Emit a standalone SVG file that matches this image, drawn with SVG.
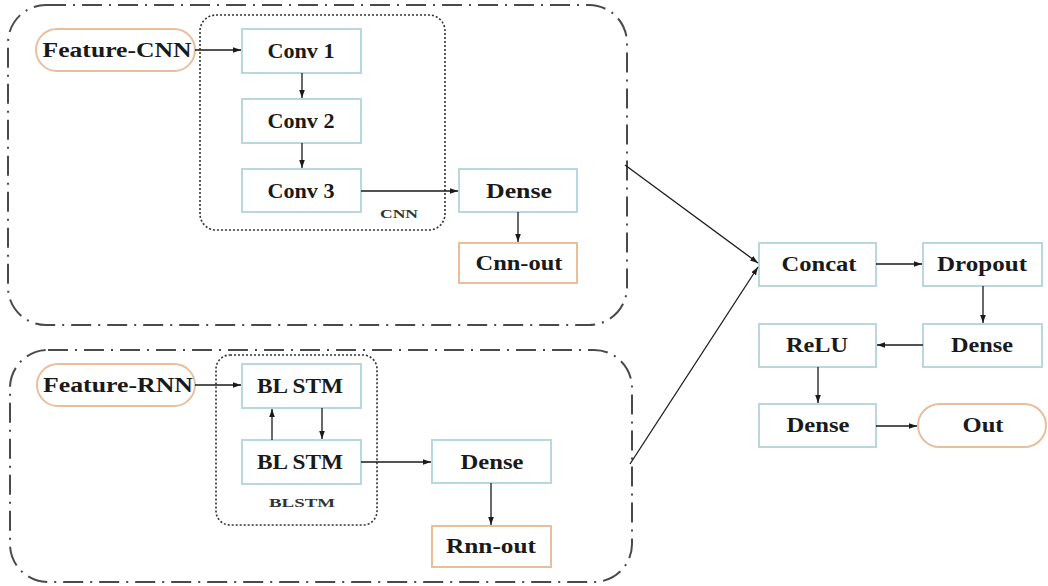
<svg xmlns="http://www.w3.org/2000/svg" width="1048" height="586" viewBox="0 0 1048 586">
<style>
.outer{fill:none;stroke:#4a4a4a;stroke-width:2;stroke-dasharray:20 7 2 7}
.inner{fill:none;stroke:#333;stroke-width:1.6;stroke-dasharray:2 2}
.blue{fill:#fff;stroke:#b9d7df;stroke-width:2}
.orange{fill:#fff;stroke:#e9bf9b;stroke-width:2}
.t{font-family:"Liberation Serif","Times New Roman",serif;font-weight:bold;font-size:20px;fill:#1a1a1a;text-anchor:middle}
.s{font-family:"Liberation Serif","Times New Roman",serif;font-weight:bold;font-size:13px;fill:#333;text-anchor:middle}
.c line{stroke:#1a1a1a;stroke-width:1.3;marker-end:url(#ah)}
</style>
<defs>
<marker id="ah" viewBox="0 0 10 10" refX="10" refY="5" markerWidth="8" markerHeight="8" markerUnits="userSpaceOnUse" orient="auto">
<path d="M0,1.5 L10,5 L0,8.5 z" fill="#1a1a1a"/>
</marker>
</defs>
<rect width="1048" height="586" fill="#fff"/>
<g id="group-top"><rect class="outer" x="8" y="5" width="619" height="320" rx="38"/></g>
<g id="group-bottom"><rect class="outer" x="10" y="350" width="622" height="232" rx="38"/></g>
<g id="cnn-box"><rect class="inner" x="200" y="15" width="245" height="215" rx="16"/><text class="s" x="399" y="218" textLength="38" lengthAdjust="spacingAndGlyphs">CNN</text></g>
<g id="blstm-box"><rect class="inner" x="216" y="355" width="161" height="170" rx="14"/><text class="s" x="302" y="507" textLength="66" lengthAdjust="spacingAndGlyphs">BLSTM</text></g>

<g id="feature-cnn"><rect class="orange" x="36" y="29" width="159" height="42" rx="21"/><text class="t" x="117" y="57" textLength="149" lengthAdjust="spacingAndGlyphs">Feature-CNN</text></g>
<g id="conv1"><rect class="blue" x="242" y="29" width="119" height="44"/><text class="t" x="301" y="58" textLength="67" lengthAdjust="spacingAndGlyphs">Conv 1</text></g>
<g id="conv2"><rect class="blue" x="242" y="99" width="119" height="44"/><text class="t" x="301" y="128" textLength="67" lengthAdjust="spacingAndGlyphs">Conv 2</text></g>
<g id="conv3"><rect class="blue" x="242" y="169" width="119" height="43"/><text class="t" x="301" y="198" textLength="67" lengthAdjust="spacingAndGlyphs">Conv 3</text></g>
<g id="dense-cnn"><rect class="blue" x="459" y="169" width="118" height="43"/><text class="t" x="519" y="198" textLength="66" lengthAdjust="spacingAndGlyphs">Dense</text></g>
<g id="cnn-out"><rect class="orange" x="459" y="243" width="118" height="40"/><text class="t" x="519" y="270" textLength="87" lengthAdjust="spacingAndGlyphs">Cnn-out</text></g>

<g id="feature-rnn"><rect class="orange" x="37" y="364" width="158" height="42" rx="21"/><text class="t" x="118" y="392" textLength="150" lengthAdjust="spacingAndGlyphs">Feature-RNN</text></g>
<g id="blstm1"><rect class="blue" x="242" y="364" width="119" height="44"/><text class="t" x="300" y="393" textLength="86" lengthAdjust="spacingAndGlyphs">BL STM</text></g>
<g id="blstm2"><rect class="blue" x="242" y="440" width="119" height="44"/><text class="t" x="300" y="469" textLength="86" lengthAdjust="spacingAndGlyphs">BL STM</text></g>
<g id="dense-rnn"><rect class="blue" x="432" y="440" width="119" height="43"/><text class="t" x="492" y="469" textLength="63" lengthAdjust="spacingAndGlyphs">Dense</text></g>
<g id="rnn-out"><rect class="orange" x="432" y="526" width="119" height="41"/><text class="t" x="491" y="553" textLength="90" lengthAdjust="spacingAndGlyphs">Rnn-out</text></g>

<g id="concat"><rect class="blue" x="759" y="243" width="117" height="43"/><text class="t" x="819" y="271" textLength="75" lengthAdjust="spacingAndGlyphs">Concat</text></g>
<g id="dropout"><rect class="blue" x="923" y="243" width="119" height="43"/><text class="t" x="982" y="271" textLength="90" lengthAdjust="spacingAndGlyphs">Dropout</text></g>
<g id="dense-2"><rect class="blue" x="923" y="324" width="119" height="43"/><text class="t" x="982" y="352" textLength="62" lengthAdjust="spacingAndGlyphs">Dense</text></g>
<g id="relu"><rect class="blue" x="759" y="324" width="117" height="43"/><text class="t" x="817" y="352" textLength="62" lengthAdjust="spacingAndGlyphs">ReLU</text></g>
<g id="dense-3"><rect class="blue" x="759" y="404" width="117" height="43"/><text class="t" x="818" y="432" textLength="63" lengthAdjust="spacingAndGlyphs">Dense</text></g>
<g id="out"><rect class="orange" x="918" y="404" width="128" height="43" rx="21.5"/><text class="t" x="983" y="432" textLength="41" lengthAdjust="spacingAndGlyphs">Out</text></g>

<g id="connectors" class="c">
<line x1="195" y1="50" x2="241" y2="50"/>
<line x1="302" y1="73" x2="302" y2="98"/>
<line x1="302" y1="143" x2="302" y2="168"/>
<line x1="361" y1="191" x2="458" y2="191"/>
<line x1="518" y1="212" x2="518" y2="242"/>
<line x1="195" y1="385" x2="241" y2="385"/>
<line x1="272" y1="440" x2="272" y2="409"/>
<line x1="322" y1="408" x2="322" y2="439"/>
<line x1="361" y1="462" x2="431" y2="462"/>
<line x1="491" y1="483" x2="491" y2="525"/>
<line x1="625" y1="165" x2="758" y2="263"/>
<line x1="630" y1="464" x2="758" y2="267"/>
<line x1="876" y1="264" x2="922" y2="264"/>
<line x1="983" y1="286" x2="983" y2="323"/>
<line x1="923" y1="345" x2="877" y2="345"/>
<line x1="818" y1="367" x2="818" y2="403"/>
<line x1="876" y1="426" x2="917" y2="426"/>
</g>
</svg>
